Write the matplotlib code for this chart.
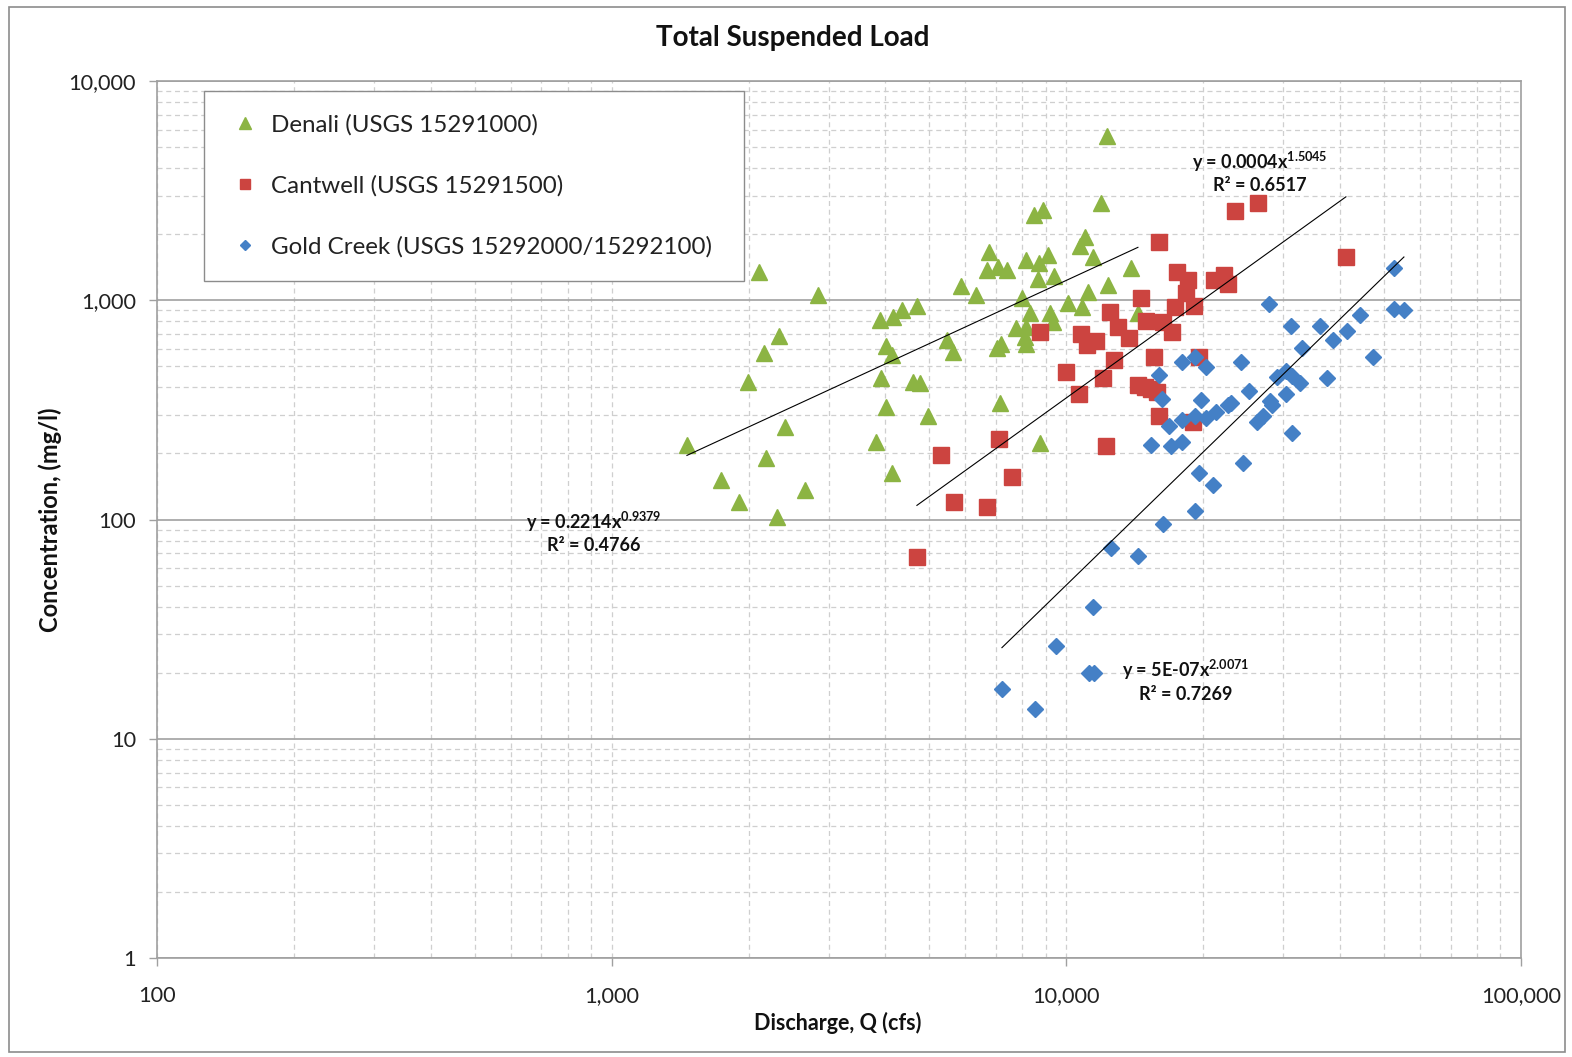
import numpy as np
import matplotlib
matplotlib.use("Agg")
import matplotlib.pyplot as plt
from matplotlib.ticker import FixedLocator, FuncFormatter, NullFormatter
from matplotlib.patches import Rectangle

plt.rcParams["font.family"] = ["Lato", "DejaVu Sans"]
plt.rcParams["mathtext.fontset"] = "custom"
plt.rcParams["mathtext.rm"] = "Lato"
plt.rcParams["mathtext.bf"] = "Lato:bold"

# Denali (USGS 15291000) - discharge (cfs) / concentration (mg/l)
denali_q = [1464, 1739, 1905, 2310, 2183, 2404, 1994, 2163, 2333, 2108,
            2842, 2661, 3890, 4157, 4350, 4692, 4010, 4135, 3911, 4010,
            3814, 4135, 4598, 4765, 4962, 5462, 5631, 5862, 6324, 6690,
            6758, 7073, 7402, 8150, 8703, 9110, 8660, 9390, 8487, 8883,
            7988, 8318, 9204, 9344, 7746, 8150, 8110, 8150, 7037, 7178,
            7143, 8750, 10080, 10820, 11160, 10715, 10990, 11440, 11916, 12284,
            12346, 13870, 14370]
denali_c = [219, 151, 120, 103, 191, 264, 424, 575, 687, 1346,
            1057, 136, 813, 839, 903, 942, 618, 562, 442, 326,
            226, 163, 424, 419, 297, 659, 581, 1161, 1057, 1374,
            1660, 1418, 1374, 1526, 1479, 1608, 1250, 1290, 2448, 2580,
            1024, 875, 875, 796, 747, 755, 680, 632, 606, 632,
            340, 224, 972, 931, 1091, 1768, 1943, 1576, 2777, 5610,
            1174, 1403, 875]

# Cantwell (USGS 15291500)
cantwell_q = [4692, 5300, 5660, 6690, 7109, 7593, 8748, 9998, 10660, 10766,
              11100, 11617, 12035, 12220, 12470, 12725, 12985, 13730, 14370, 14590,
              14890, 14960, 15350, 15590, 15820, 15980, 15980, 16310, 17070, 17330,
              17510, 18510, 18320, 19080, 18980, 19570, 21120, 22220, 22670, 23490,
              26390, 41200]
cantwell_c = [67.4, 197, 120, 114, 233, 156, 716, 471, 374, 701,
              625, 652, 442, 216, 884, 534, 755, 673, 411, 1024,
              402, 804, 394, 551, 381, 1844, 297, 796, 716, 931,
              1346, 1237, 1079, 942, 278, 551, 1237, 1303, 1186, 2553,
              2777, 1575]

# Gold Creek (USGS 15292000/15292100)
gold_q = [7217, 8531, 9485, 11440, 11210, 11500, 12530, 14370, 15350, 15980,
          16230, 16310, 16810, 16980, 17960, 17960, 17960, 19180, 19180, 19180,
          19570, 19770, 20280, 20280, 21010, 21330, 22670, 23010, 24210, 24440,
          25210, 26240, 27060, 27900, 28040, 28320, 29060, 30410, 30410, 31190,
          31350, 31350, 32640, 32970, 36110, 37420, 38570, 41400, 44230, 47240,
          52540, 52540, 55270]
gold_c = [16.8, 13.7, 26.6, 40.1, 20.0, 20.0, 73.9, 68.0, 218, 455,
          354, 95.1, 266, 216, 521, 284, 225, 550, 296, 109,
          163, 350, 495, 290, 143, 308, 332, 339, 521, 181,
          385, 278, 296, 959, 346, 332, 446, 474, 373, 761,
          450, 247, 418, 604, 761, 440, 657, 722, 854, 550,
          1400, 910, 900]

series_labels = ["Denali (USGS 15291000)", "Cantwell (USGS 15291500)",
                 "Gold Creek (USGS 15292000/15292100)"]
trend_labels = [("y = 0.2214x$^{\\mathbf{0.9379}}$", "R² = 0.4766"),
                ("y = 0.0004x$^{\\mathbf{1.5045}}$", "R² = 0.6517"),
                ("y = 5E-07x$^{\\mathbf{2.0071}}$", "R² = 0.7269")]
x_ticks = [100, 1000, 10000, 100000]
y_ticks = [1, 10, 100, 1000, 10000]


def power_fit(q, c):
    # fit like Excel's power trendline: straight line in log-log space
    lq, lc = np.log10(q), np.log10(c)
    a, b = np.polyfit(lq, lc, 1)
    xs = np.logspace(lq.min(), lq.max(), 60)
    return xs, 10 ** b * xs ** a


fig = plt.figure(figsize=(15.72, 10.57), dpi=100)
ax = fig.add_axes([157 / 1572, 1 - 958 / 1057, 1364 / 1572, 877 / 1057])
ax.set_xscale("log")
ax.set_yscale("log")
ax.set_xlim(100, 100000)
ax.set_ylim(1, 10000)

ax.plot(denali_q, denali_c, ls="none", marker="^", ms=12, color="#8cb443",
        label=series_labels[0], zorder=3)
ax.plot(cantwell_q, cantwell_c, ls="none", marker="s", ms=11, color="#cc4440",
        label=series_labels[1], zorder=3)
ax.plot(gold_q, gold_c, ls="none", marker="D", ms=8, color="#4480c6",
        label=series_labels[2], zorder=3)

for q, c in [(denali_q, denali_c), (cantwell_q, cantwell_c), (gold_q, gold_c)]:
    xs, ys = power_fit(q, c)
    ax.plot(xs, ys, color="black", lw=0.8, zorder=4)

# gridlines
minor = [m * 10 ** e for e in range(0, 5) for m in range(2, 10)]
ax.xaxis.set_major_locator(FixedLocator(x_ticks))
ax.yaxis.set_major_locator(FixedLocator(y_ticks))
ax.xaxis.set_minor_locator(FixedLocator(minor))
ax.yaxis.set_minor_locator(FixedLocator(minor))
ax.xaxis.set_minor_formatter(NullFormatter())
ax.yaxis.set_minor_formatter(NullFormatter())
fmt = FuncFormatter(lambda v, p: f"{v:,.0f}")
ax.xaxis.set_major_formatter(fmt)
ax.yaxis.set_major_formatter(fmt)

ax.grid(which="major", axis="y", color="#a8a8a8", lw=1.3, ls="-")
ax.grid(which="minor", axis="y", color="#cfcfcf", lw=0.9, ls=(0, (4, 3)))
ax.grid(which="both", axis="x", color="#cfcfcf", lw=0.9, ls=(0, (4, 3)))
ax.set_axisbelow(True)

for s in ax.spines.values():
    s.set_color("#a0a0a0")
    s.set_linewidth(1.2)
ax.tick_params(which="major", length=6, width=1, color="#a0a0a0",
               labelsize=15.7, labelcolor="#222222")
ax.tick_params(axis="x", which="major", pad=14)
ax.tick_params(axis="y", which="major", pad=9)
ax.tick_params(which="minor", length=0)

# trendline equations
eq_pos = [(0.3204, 0.4971, 0.4698), (0.8087, 0.9076, 0.8803), (0.7544, 0.3284, 0.3010)]
for (eq, r2), (x, y1, y2) in zip(trend_labels, eq_pos):
    ax.text(x, y1, eq, transform=ax.transAxes, ha="center", va="center",
            fontsize=13, fontweight="bold", color="#111111")
    ax.text(x, y2, r2, transform=ax.transAxes, ha="center", va="center",
            fontsize=13, fontweight="bold", color="#111111")

leg = ax.legend(loc="upper left", bbox_to_anchor=(0.0345, 0.7799, 0.396, 0.2087),
                mode="expand", borderaxespad=0, fontsize=17.4, labelspacing=1.64,
                borderpad=0.95, handletextpad=0.3, handlelength=1.5,
                markerscale=0.7, fancybox=False, framealpha=1,
                edgecolor="#8c8c8c")
leg.get_frame().set_linewidth(1.0)
for t in leg.get_texts():
    t.set_color("#222222")

fig.text(793 / 1572, 1 - 38 / 1057, "Total Suspended Load", ha="center",
         va="center", fontsize=20, fontweight="bold", color="#111111")
fig.text(838 / 1572, 1 - 1023 / 1057, "Discharge, Q (cfs)", ha="center",
         va="center", fontsize=15.5, fontweight="bold", color="#111111")
fig.text(50 / 1572, 1 - 520 / 1057, "Concentration, (mg/l)", ha="center",
         va="center", rotation=90, fontsize=17, fontweight="bold",
         color="#111111")

fig.add_artist(Rectangle((9 / 1572, 1 - 1052 / 1057), 1556 / 1572, 1045 / 1057,
                         transform=fig.transFigure, fill=False,
                         ec="#8c8c8c", lw=1.2))

fig.savefig("out.png", dpi=100)
plt.close(fig)
